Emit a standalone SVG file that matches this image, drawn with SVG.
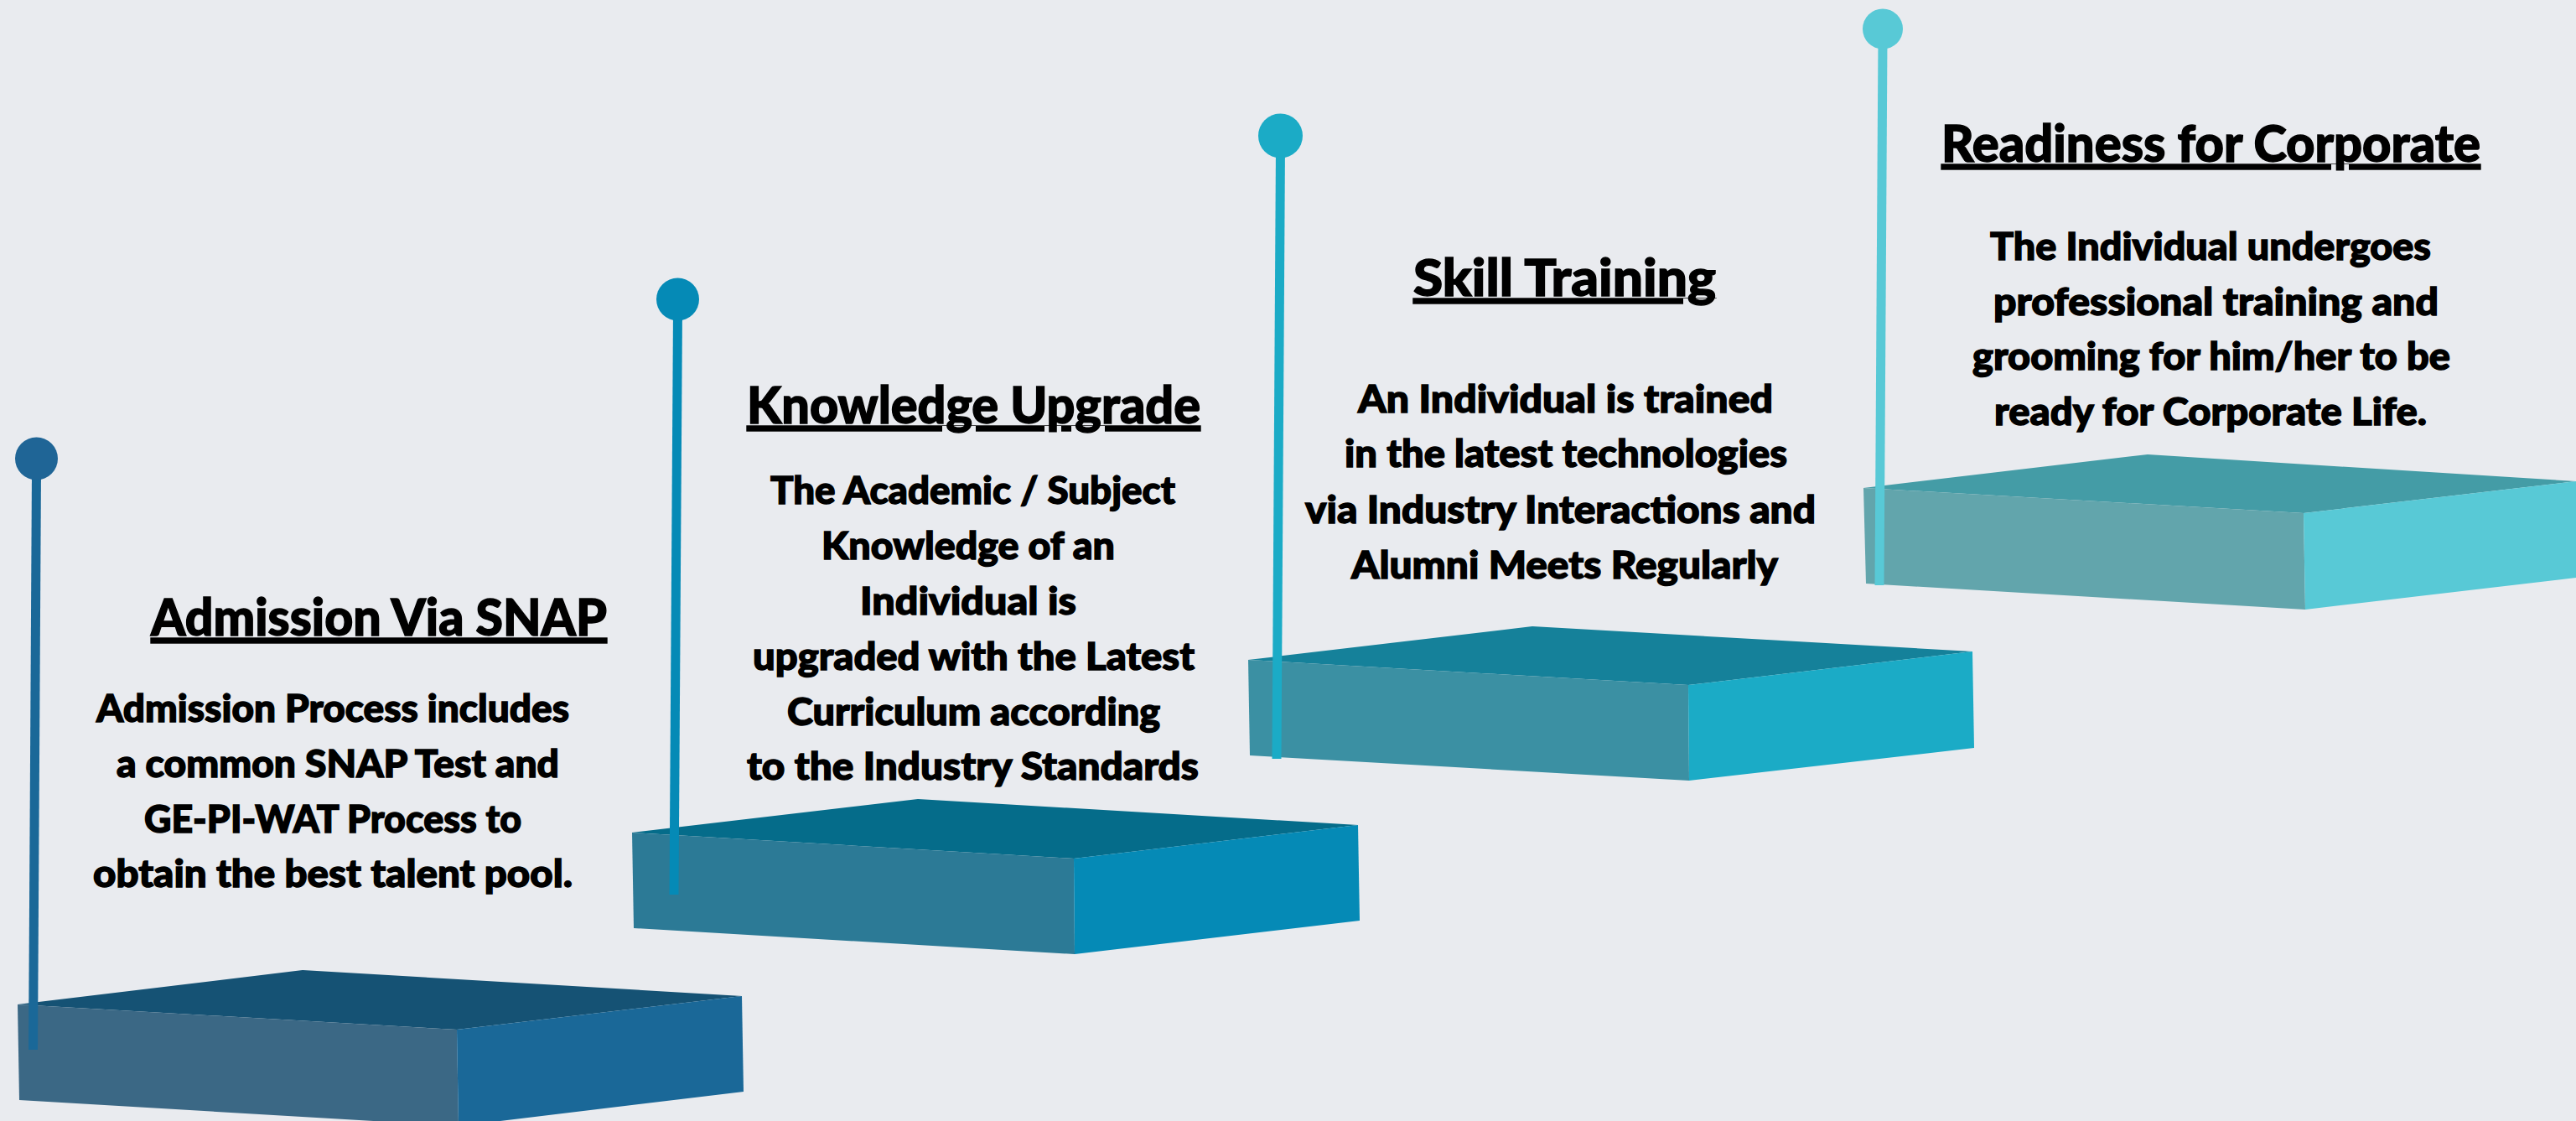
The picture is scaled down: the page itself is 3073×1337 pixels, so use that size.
<svg xmlns="http://www.w3.org/2000/svg" width="3073" height="1337" viewBox="0 0 3073 1337">
<style>
text{font-family:"Lato","Noto Sans","Liberation Sans",sans-serif;fill:#000;stroke:#000;stroke-width:1.4px;font-weight:900;text-anchor:start}
.t{font-size:60px;text-decoration:underline;text-decoration-thickness:6px;text-underline-offset:5px}
.b{font-size:45px}
.pole{fill:none;stroke-width:11}
</style>
<rect width="3073" height="1337" fill="#e9ebef"/>
<g id="step-1">
<polygon fill="#155274" points="21,1198 361,1157 885,1188 545,1228"/>
<polygon fill="#3b6885" points="21,1198 545,1228 547,1343 23,1312"/>
<polygon fill="#1a6898" points="545,1228 885,1188 887,1302 547,1343"/>
<text class="t" x="180" y="758" textLength="544" lengthAdjust="spacingAndGlyphs">Admission Via SNAP</text>
<text class="b" x="115" y="861" textLength="564" lengthAdjust="spacingAndGlyphs">Admission Process includes</text>
<text class="b" x="139" y="927" textLength="528" lengthAdjust="spacingAndGlyphs">a common SNAP Test and</text>
<text class="b" x="172" y="993" textLength="450" lengthAdjust="spacingAndGlyphs">GE-PI-WAT Process to</text>
<text class="b" x="111" y="1058" textLength="572" lengthAdjust="spacingAndGlyphs">obtain the best talent pool.</text>
</g>
<g id="step-2">
<polygon fill="#056c8a" points="754,993 1095,953 1620,984 1281,1024"/>
<polygon fill="#2c7a96" points="754,993 1281,1024 1282,1138 756,1107"/>
<polygon fill="#058ab6" points="1281,1024 1620,984 1622,1098 1282,1138"/>
<text class="t" x="891" y="505" textLength="541" lengthAdjust="spacingAndGlyphs">Knowledge Upgrade</text>
<text class="b" x="919" y="601" textLength="483" lengthAdjust="spacingAndGlyphs">The Academic / Subject</text>
<text class="b" x="980" y="667" textLength="350" lengthAdjust="spacingAndGlyphs">Knowledge of an</text>
<text class="b" x="1026" y="733" textLength="258" lengthAdjust="spacingAndGlyphs">Individual is</text>
<text class="b" x="898" y="799" textLength="527" lengthAdjust="spacingAndGlyphs">upgraded with the Latest</text>
<text class="b" x="939" y="865" textLength="445" lengthAdjust="spacingAndGlyphs">Curriculum according</text>
<text class="b" x="891" y="930" textLength="539" lengthAdjust="spacingAndGlyphs">to the Industry Standards</text>
</g>
<g id="step-3">
<polygon fill="#15819a" points="1489,787 1828,747 2353,777 2014,817"/>
<polygon fill="#3b90a3" points="1489,787 2014,817 2015,931 1491,901"/>
<polygon fill="#1babc6" points="2014,817 2353,777 2355,892 2015,931"/>
<text class="t" x="1686" y="353" textLength="361" lengthAdjust="spacingAndGlyphs">Skill Training</text>
<text class="b" x="1620" y="492" textLength="495" lengthAdjust="spacingAndGlyphs">An Individual is trained</text>
<text class="b" x="1604" y="557" textLength="528" lengthAdjust="spacingAndGlyphs">in the latest technologies</text>
<text class="b" x="1557" y="624" textLength="609" lengthAdjust="spacingAndGlyphs">via Industry Interactions and</text>
<text class="b" x="1612" y="690" textLength="509" lengthAdjust="spacingAndGlyphs">Alumni Meets Regularly</text>
</g>
<g id="step-4">
<polygon fill="#449ca6" points="2223,582 2562,542 3073,574 2748,612"/>
<polygon fill="#62a5ac" points="2223,582 2748,612 2750,727 2226,696"/>
<polygon fill="#58c9d6" points="2748,612 3073,574 3073,689 2750,727"/>
<text class="t" x="2316" y="193" textLength="643" lengthAdjust="spacingAndGlyphs">Readiness for Corporate</text>
<text class="b" x="2374" y="310" textLength="526" lengthAdjust="spacingAndGlyphs">The Individual undergoes</text>
<text class="b" x="2378" y="376" textLength="531" lengthAdjust="spacingAndGlyphs">professional training and</text>
<text class="b" x="2353" y="441" textLength="570" lengthAdjust="spacingAndGlyphs">grooming for him/her to be</text>
<text class="b" x="2379" y="507" textLength="516" lengthAdjust="spacingAndGlyphs">ready for Corporate Life.</text>
</g>
<g id="connectors">
<g id="pole-1"><line class="pole" stroke="#1a6898" x1="43.5" y1="560" x2="39.5" y2="1252"/><circle cx="43.5" cy="547" r="25.5" fill="#1f6596"/></g>
<g id="pole-2"><line class="pole" stroke="#058ab6" x1="808.5" y1="370" x2="804" y2="1067"/><circle cx="808.5" cy="357" r="25.5" fill="#058ab6"/></g>
<g id="pole-3"><line class="pole" stroke="#1babc6" x1="1527.5" y1="175" x2="1523" y2="905"/><circle cx="1527.5" cy="162" r="26.5" fill="#1babc6"/></g>
<g id="pole-4"><line class="pole" stroke="#58c9d6" x1="2246" y1="45" x2="2242" y2="698"/><circle cx="2246" cy="34.5" r="24" fill="#58c9d6"/></g>
</g>
</svg>
